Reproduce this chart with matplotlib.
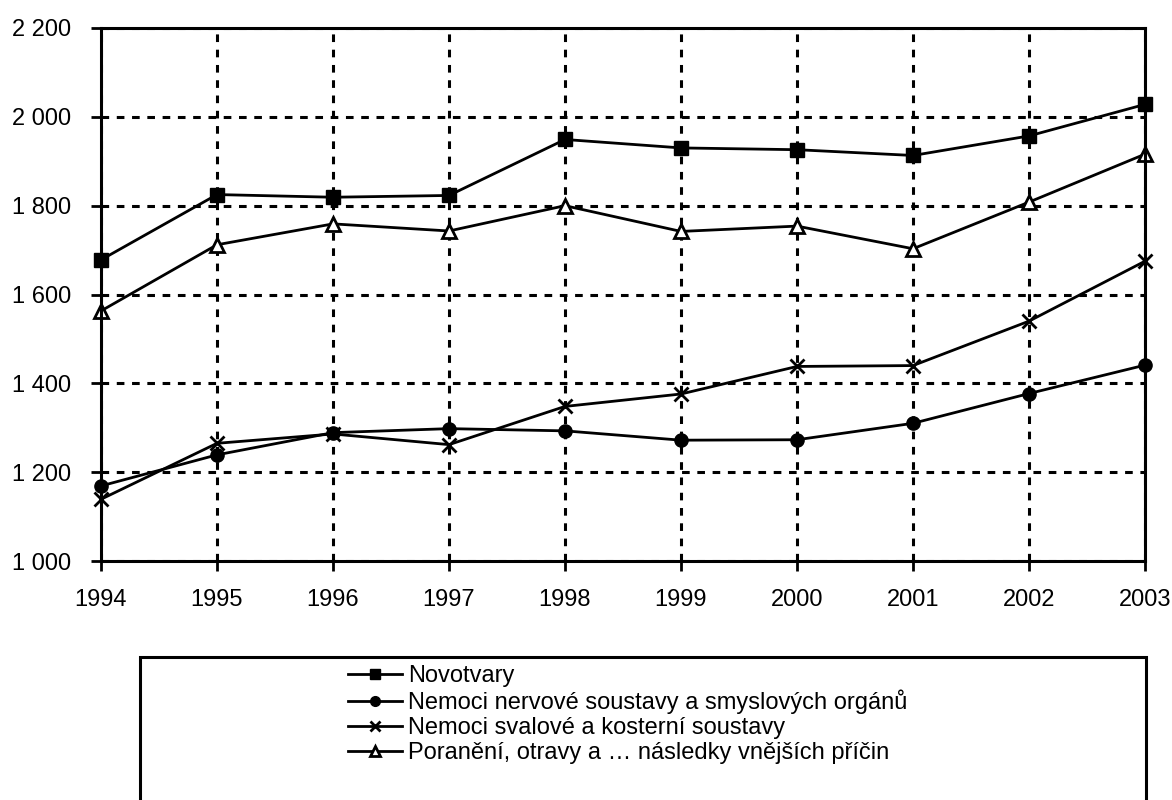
import matplotlib
matplotlib.use("Agg")
import matplotlib.pyplot as plt
from matplotlib.patches import Rectangle

plt.rcParams['font.family'] = ['Liberation Sans', 'DejaVu Sans']

years = [1994, 1995, 1996, 1997, 1998, 1999, 2000, 2001, 2002, 2003]
novotvary = [1678, 1825, 1819, 1823, 1949, 1930, 1926, 1913, 1957, 2028]
nervove = [1169, 1239, 1289, 1298, 1293, 1272, 1273, 1310, 1377, 1441]
svalove = [1139, 1265, 1286, 1262, 1348, 1376, 1438, 1440, 1540, 1675]
poraneni = [1563, 1712, 1759, 1743, 1800, 1742, 1754, 1703, 1808, 1916]

labels = ["Novotvary",
          "Nemoci nervové soustavy a smyslových orgánů",
          "Nemoci svalové a kosterní soustavy",
          "Poranění, otravy a … následky vnějších příčin"]
yticks = [1000, 1200, 1400, 1600, 1800, 2000, 2200]
ytick_labels = ["1 000", "1 200", "1 400", "1 600", "1 800", "2 000", "2 200"]

FS = 17

fig = plt.figure(figsize=(11.72, 8), dpi=100)
ax = fig.add_axes([101/1172, 1 - 561/800, 1044/1172, 533/800])

ax.plot(years, novotvary, color='black', lw=2, marker='s', ms=10, label=labels[0])
ax.plot(years, nervove, color='black', lw=2, marker='o', ms=9.5, label=labels[1])
ax.plot(years, svalove, color='black', lw=2, marker='x', ms=10, mew=2, label=labels[2])
ax.plot(years, poraneni, color='black', lw=2, marker='^', ms=9.5, mfc='white', mew=2, label=labels[3])

ax.set_xlim(1994, 2003)
ax.set_ylim(1000, 2200)
ax.set_xticks(years)
ax.set_xticklabels([str(y) for y in years], fontsize=FS)
ax.set_yticks(yticks)
ax.set_yticklabels(ytick_labels, fontsize=FS)
ax.tick_params(axis='both', direction='out', length=7.2, width=2, colors='black')
ax.tick_params(axis='y', pad=14)
ax.tick_params(axis='x', pad=13)
ax.grid(True, color='black', linestyle=(0, (2.5, 2.5)), linewidth=2.2)
for s in ax.spines.values():
    s.set_linewidth(2.2)
    s.set_color('black')
ax.set_axisbelow(True)
for line in ax.lines:
    line.set_clip_on(False)

# legend frame
fig.patches.append(Rectangle((140/1172, -0.01), 1006/1172, 1 - 657/800 + 0.01,
                             transform=fig.transFigure, fill=False,
                             edgecolor='black', lw=2.2))
leg = fig.legend(loc='upper left', bbox_to_anchor=(348/1172, 1 - 665/800), frameon=False,
                 fontsize=FS, handlelength=2.3, handletextpad=0.25, labelspacing=0.12,
                 borderpad=0, borderaxespad=0)
for h in leg.legend_handles:
    h.set_markersize(7)

fig.savefig("out.png", dpi=100)
